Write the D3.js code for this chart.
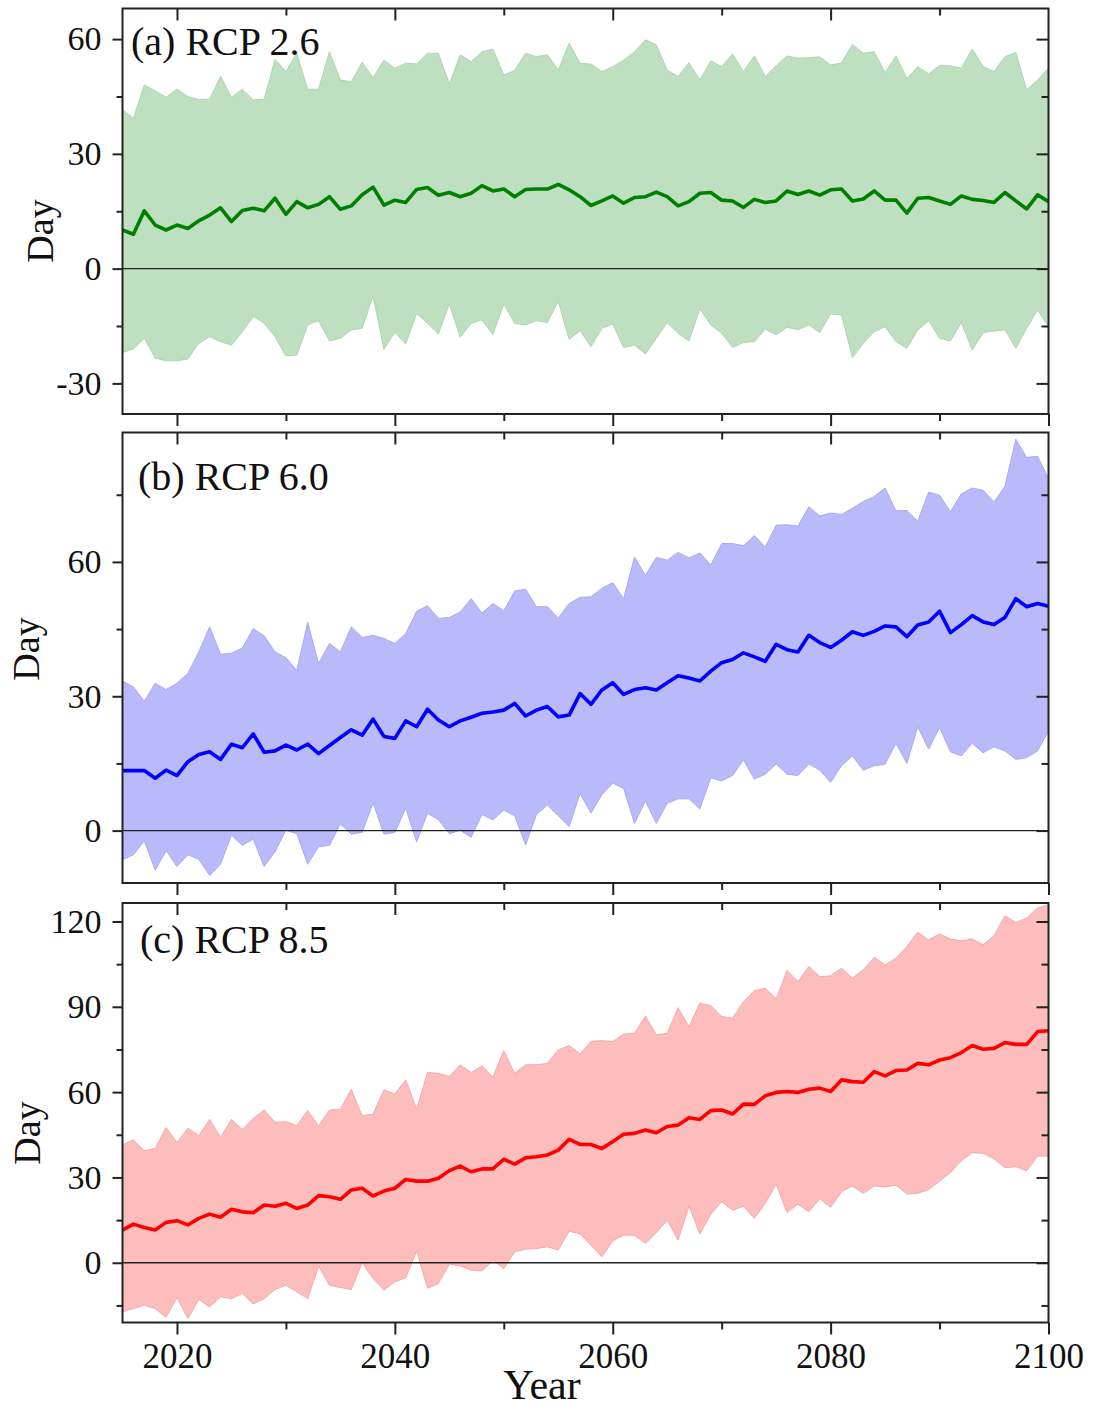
<!DOCTYPE html>
<html><head><meta charset="utf-8">
<script src="https://cdn.jsdelivr.net/npm/d3@7"></script>
<style>
body{margin:0;background:#fff}
svg{display:block}
text{font-family:"Liberation Serif","Times New Roman",serif;fill:#111}
</style>
</head><body>
<svg id="chart" width="1096" height="1410"></svg>
<script>
const years = [2015,2016,2017,2018,2019,2020,2021,2022,2023,2024,2025,2026,2027,2028,2029,2030,2031,2032,2033,2034,2035,2036,2037,2038,2039,2040,2041,2042,2043,2044,2045,2046,2047,2048,2049,2050,2051,2052,2053,2054,2055,2056,2057,2058,2059,2060,2061,2062,2063,2064,2065,2066,2067,2068,2069,2070,2071,2072,2073,2074,2075,2076,2077,2078,2079,2080,2081,2082,2083,2084,2085,2086,2087,2088,2089,2090,2091,2092,2093,2094,2095,2096,2097,2098,2099,2100];

const rcp26Mean = [10.1,9.0,15.1,11.4,10.1,11.4,10.5,12.5,14.0,15.9,12.3,15.2,15.8,15.1,18.4,14.2,17.5,15.9,16.8,18.8,15.5,16.4,19.3,21.3,16.6,17.9,17.3,20.7,21.2,19.2,19.9,18.8,19.7,21.7,20.3,20.8,18.8,20.7,20.8,20.8,22.0,20.6,18.8,16.5,17.7,19.0,17.1,18.6,18.8,20.0,18.8,16.4,17.5,19.7,19.9,17.9,17.7,16.0,18.1,17.3,17.7,20.3,19.4,20.3,19.2,20.6,20.8,17.7,18.2,20.3,17.9,17.9,14.5,18.4,18.6,17.7,16.8,19.0,18.1,17.8,17.3,19.9,17.7,15.6,19.3,17.5];
const rcp26Upper = [41.6,39.3,48.0,46.5,44.8,46.9,45.0,44.2,44.3,50.3,44.8,46.9,44.1,44.3,54.7,51.5,56.3,46.9,46.9,56.7,49.3,48.9,53.9,49.9,54.5,52.4,53.7,53.5,56.3,56.3,48.3,55.9,54.1,56.7,57.4,50.6,51.8,56.3,55.4,55.9,51.9,58.9,53.7,53.5,51.5,52.8,54.5,56.7,59.8,58.5,51.9,50.2,53.8,49.3,54.3,52.8,56.1,51.5,55.6,50.2,53.0,55.6,55.0,55.1,55.4,53.2,53.8,58.6,56.3,56.7,51.2,55.6,49.7,52.8,50.9,53.1,53.0,52.4,57.4,52.8,51.5,55.4,56.5,46.7,49.3,52.4];
const rcp26Lower = [-21.9,-21.0,-18.2,-23.4,-24.1,-24.1,-23.6,-19.5,-17.8,-19.1,-20.0,-16.5,-12.5,-14.3,-17.8,-22.8,-22.6,-14.7,-13.6,-18.9,-18.2,-16.0,-15.6,-7.1,-21.1,-16.6,-19.7,-11.7,-14.3,-17.1,-9.2,-17.9,-14.3,-13.4,-17.2,-9.2,-14.3,-14.7,-13.6,-14.1,-8.5,-18.5,-16.2,-20.4,-15.6,-14.5,-20.6,-20.0,-22.3,-18.2,-14.1,-16.9,-18.9,-10.5,-14.7,-16.9,-20.6,-19.3,-19.1,-15.8,-17.3,-15.3,-16.0,-14.7,-16.7,-11.8,-12.1,-23.3,-19.5,-16.5,-15.2,-19.1,-20.8,-16.0,-13.6,-18.2,-18.9,-14.1,-21.3,-16.7,-16.3,-16.0,-20.8,-15.6,-10.8,-15.2];

const rcp60Mean = [13.4,13.4,13.4,11.7,13.5,12.3,15.4,17.0,17.6,15.9,19.3,18.5,21.6,17.5,17.8,19.1,18.0,19.3,17.2,19.0,20.8,22.5,21.3,24.9,21.0,20.6,24.5,23.2,27.1,24.7,23.2,24.5,25.3,26.2,26.5,26.9,28.4,25.6,26.9,27.7,25.4,25.8,30.6,28.2,31.4,33.0,30.4,31.5,31.9,31.4,33.0,34.6,34.1,33.4,35.6,37.5,38.2,39.7,38.8,37.8,41.6,40.4,39.9,43.6,42.0,40.9,42.5,44.4,43.6,44.5,45.7,45.5,43.3,45.9,46.6,49.0,44.2,46.0,48.0,46.6,46.0,47.6,51.8,50.0,50.7,50.1];
const rcp60Upper = [33.4,32.1,28.9,32.9,31.5,32.9,35.1,39.9,45.5,39.4,39.6,40.8,45.1,43.5,39.9,38.6,35.8,46.5,37.3,41.8,39.9,45.5,43.1,43.6,42.9,41.8,44.0,49.0,50.2,47.4,47.6,48.8,51.8,48.6,50.7,49.1,53.5,53.9,50.0,50.0,47.5,50.7,52.1,52.2,54.1,55.4,51.8,61.1,57.0,61.0,60.4,62.1,60.9,62.0,59.3,64.1,64.1,63.6,65.9,63.3,68.2,68.3,68.0,72.3,70.3,70.9,70.6,72.0,73.5,74.6,76.5,71.4,71.5,69.1,75.6,74.9,71.2,75.2,76.5,76.0,73.4,76.9,87.4,83.3,83.6,78.6];
const rcp60Lower = [-6.5,-5.4,-2.3,-8.8,-4.5,-8.0,-5.4,-6.4,-10.0,-7.5,-1.0,-3.3,-1.9,-8.0,-4.7,0.1,-0.7,-7.5,-3.6,-3.3,1.5,-0.8,-0.4,6.2,-0.8,-0.4,5.0,-2.5,3.9,2.4,-0.7,0.1,-1.5,3.6,2.4,4.6,3.3,-3.2,3.6,5.7,3.3,0.9,8.3,3.9,8.0,10.6,9.4,1.6,6.6,1.6,6.1,7.1,7.1,4.8,11.8,11.1,12.3,15.8,11.5,12.6,14.9,12.6,12.3,14.9,13.5,10.8,14.5,16.7,13.5,14.5,14.8,19.5,15.0,23.2,18.2,23.0,17.6,16.7,19.5,17.4,18.7,17.8,15.9,16.3,17.8,22.2];

const rcp85Mean = [11.5,13.6,12.4,11.5,14.2,14.8,13.3,15.6,17.1,16.0,18.8,17.9,17.6,20.3,19.9,20.9,19.1,20.3,23.6,23.2,22.3,25.6,26.2,23.5,25.2,26.2,29.3,28.7,28.7,29.7,32.4,34.0,32.0,33.0,33.0,36.4,34.7,36.9,37.3,37.9,39.6,43.4,41.6,41.6,40.2,42.6,45.2,45.5,46.7,45.7,47.9,48.4,51.0,50.4,53.5,53.7,52.3,55.8,55.7,58.7,59.9,60.2,59.9,61.0,61.4,60.2,64.3,63.7,63.5,67.2,65.7,67.6,67.8,70.1,69.6,71.3,72.1,73.9,76.4,75.1,75.4,77.4,76.8,76.8,81.3,81.6];
const rcp85Upper = [41.4,43.2,39.4,40.2,47.6,42.3,47.3,44.7,50.4,44.1,50.4,46.9,50.8,53.7,49.4,49.6,48.2,53.5,48.1,53.7,54.0,61.0,51.7,52.3,60.8,59.4,64.3,54.0,66.9,66.6,65.5,69.6,66.9,69.2,65.2,74.6,66.6,69.6,69.6,70.1,74.8,76.4,73.4,77.8,78.1,77.8,80.4,80.7,86.8,80.1,80.7,89.7,83.0,91.3,90.4,86.6,86.0,91.8,95.7,96.5,92.8,102.8,98.9,104.2,100.6,100.9,103.6,100.1,103.0,107.4,104.7,107.1,111.2,116.2,113.5,115.7,113.8,113.2,113.9,111.8,115.0,122.0,119.6,121.2,124.7,125.9];
const rcp85Lower = [-17.2,-16.1,-14.9,-16.1,-19.2,-12.2,-19.6,-12.9,-15.5,-12.0,-12.6,-10.8,-14.5,-12.6,-9.4,-7.9,-10.2,-12.6,-1.2,-7.9,-8.7,-9.4,0.0,-5.5,-9.6,-6.7,-5.3,4.2,-9.0,-7.3,-0.5,-1.1,-2.6,-2.9,0.9,-2.0,3.9,4.8,5.0,5.6,4.5,11.1,10.2,6.2,2.1,7.7,9.7,9.7,6.8,10.6,15.0,8.0,19.9,10.1,17.1,21.5,18.5,19.9,15.6,20.9,27.7,17.7,20.6,17.9,22.6,19.5,25.0,27.0,24.4,27.0,26.7,27.3,24.2,24.4,25.8,28.7,31.7,35.9,38.7,38.5,36.5,33.4,33.8,32.4,37.5,37.5];

const panelTitles = ["(a) RCP 2.6", "(b) RCP 6.0", "(c) RCP 8.5"];
const yMajorTicks = [[-30, 0, 30, 60], [0, 30, 60], [0, 30, 60, 90, 120]];
const yMinorTicks = [[-15, 15, 45], [15, 45, 75], [-15, 15, 45, 75, 105]];
const xMajorTicks = [2020, 2040, 2060, 2080, 2100];
const xMinorTicks = [2030, 2050, 2070, 2090];
const yAxisTitle = "Day";
const xAxisTitle = "Year";

const panels = [
  {title: panelTitles[0], mean: rcp26Mean, upper: rcp26Upper, lower: rcp26Lower, yMajor: yMajorTicks[0], yMinor: yMinorTicks[0],
   domain: [-38, 68], top: 8.5, bottom: 414, fill: "#bedfc0", edge: "#acd6ae", line: "#008000",
   titleX: 131, titleY: 55, dayX: 53, dayY: 231},
  {title: panelTitles[1], mean: rcp60Mean, upper: rcp60Upper, lower: rcp60Lower, yMajor: yMajorTicks[1], yMinor: yMinorTicks[1],
   domain: [-11.7, 88.9], top: 432.5, bottom: 883, fill: "#babafb", edge: "#a9a9f6", line: "#0000ff",
   titleX: 138, titleY: 490, dayX: 39, dayY: 649},
  {title: panelTitles[2], mean: rcp85Mean, upper: rcp85Upper, lower: rcp85Lower, yMajor: yMajorTicks[2], yMinor: yMinorTicks[2],
   domain: [-21, 126.5], top: 903, bottom: 1322.5, fill: "#fdbdbd", edge: "#f6a9a9", line: "#ff0000",
   titleX: 140, titleY: 953, dayX: 40, dayY: 1133}
];

const svg = d3.select("#chart");
svg.append("rect").attr("width", 1096).attr("height", 1410).attr("fill", "#fff");

const left = 122.5, right = 1048.5;
const x = d3.scaleLinear().domain([2015, 2100]).range([left, right]);

function styleAxis(g) {
  g.select(".domain").remove();
  g.selectAll(".tick line").attr("stroke", "#222").attr("stroke-width", 2);
}

panels.forEach((p, k) => {
  const y = d3.scaleLinear().domain(p.domain).range([p.bottom, p.top]);
  const g = svg.append("g");
  const clipId = "clip" + k;
  g.append("clipPath").attr("id", clipId).append("rect")
    .attr("x", left).attr("y", p.top).attr("width", right - left).attr("height", p.bottom - p.top);

  const rows = years.map((yr, i) => ({year: yr, m: p.mean[i], hi: p.upper[i], lo: p.lower[i]}));
  const plot = g.append("g").attr("clip-path", `url(#${clipId})`);

  plot.append("path").datum(rows)
    .attr("d", d3.area().x(d => x(d.year)).y0(d => y(d.lo)).y1(d => y(d.hi)))
    .attr("fill", p.fill).attr("stroke", p.edge).attr("stroke-width", 1);

  plot.append("line").attr("x1", left).attr("x2", right)
    .attr("y1", y(0)).attr("y2", y(0)).attr("stroke", "#222").attr("stroke-width", 1.3);

  plot.append("path").datum(rows)
    .attr("d", d3.line().x(d => x(d.year)).y(d => y(d.m)))
    .attr("fill", "none").attr("stroke", p.line).attr("stroke-width", 3.6)
    .attr("stroke-linejoin", "round");

  // left axis
  g.append("g").attr("transform", `translate(${left},0)`)
    .call(d3.axisLeft(y).tickValues(p.yMajor).tickSize(10).tickPadding(11).tickFormat(d => String(d)))
    .call(styleAxis)
    .call(a => a.selectAll("text").attr("font-size", 34).attr("font-family", "Liberation Serif").attr("fill", "#111"));
  g.append("g").attr("transform", `translate(${left},0)`)
    .call(d3.axisLeft(y).tickValues(p.yMinor).tickSize(6).tickFormat(""))
    .call(styleAxis);
  // right axis (inward)
  g.append("g").attr("transform", `translate(${right},0)`)
    .call(d3.axisRight(y).tickValues(p.yMajor).tickSize(-12).tickFormat(""))
    .call(styleAxis);
  g.append("g").attr("transform", `translate(${right},0)`)
    .call(d3.axisRight(y).tickValues(p.yMinor).tickSize(-7).tickFormat(""))
    .call(styleAxis);
  // top axis (inward)
  g.append("g").attr("transform", `translate(0,${p.top})`)
    .call(d3.axisTop(x).tickValues(xMajorTicks.filter(v => v < 2100)).tickSize(-12).tickFormat(""))
    .call(styleAxis);
  g.append("g").attr("transform", `translate(0,${p.top})`)
    .call(d3.axisTop(x).tickValues(xMinorTicks).tickSize(-7).tickFormat(""))
    .call(styleAxis);
  // bottom axis (outward)
  const isLast = k === panels.length - 1;
  g.append("g").attr("transform", `translate(0,${p.bottom})`)
    .call(d3.axisBottom(x).tickValues(xMajorTicks).tickSize(12).tickPadding(9)
      .tickFormat(isLast ? (d => String(d)) : ""))
    .call(styleAxis)
    .call(a => a.selectAll("text").attr("font-size", 35).attr("font-family", "Liberation Serif").attr("fill", "#111"));
  g.append("g").attr("transform", `translate(0,${p.bottom})`)
    .call(d3.axisBottom(x).tickValues(xMinorTicks).tickSize(7).tickFormat(""))
    .call(styleAxis);

  // frame
  g.append("rect").attr("x", left).attr("y", p.top)
    .attr("width", right - left).attr("height", p.bottom - p.top)
    .attr("fill", "none").attr("stroke", "#222").attr("stroke-width", 2);

  // title
  g.append("text").attr("x", p.titleX).attr("y", p.titleY)
    .attr("font-size", 40).text(p.title);

  // y-axis title
  g.append("text").attr("transform", `translate(${p.dayX},${p.dayY}) rotate(-90)`)
    .attr("text-anchor", "middle").attr("font-size", 38).text(yAxisTitle);
});

svg.append("text").attr("x", 542).attr("y", 1399).attr("text-anchor", "middle")
  .attr("font-size", 42).text(xAxisTitle);
</script>
</body></html>
